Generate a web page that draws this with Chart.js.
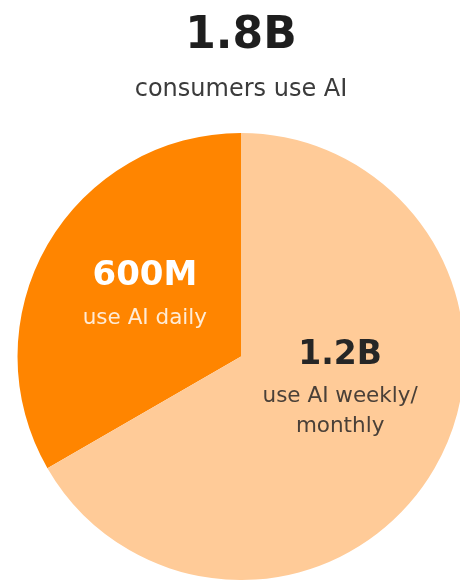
<!DOCTYPE html>
<html>
<head>
<meta charset="utf-8">
<script src="https://cdn.jsdelivr.net/npm/chart.js@4"></script>
<style>
  html, body { margin: 0; padding: 0; background: #fff; overflow: hidden; }
  #wrap { width: 460px; height: 580px; overflow: hidden; }
</style>
</head>
<body>
<div id="wrap"><canvas id="pie" width="482" height="580"></canvas></div>
<script>
// values in millions
const categories = ['use AI daily', 'use AI weekly/monthly'];
const users = [600, 1200];
const bigLabels = ['600M', '1.2B'];
const smallLabels = [['use AI daily'], ['use AI weekly/', 'monthly']];
const totalLabel = '1.8B';
const totalCaption = 'consumers use AI';

const FONT = '"DejaVu Sans", "Noto Sans", sans-serif';

// where each slice's text block sits: angle (deg from 12 o'clock, clockwise) and radius fraction
const sliceText = [
    {deg: -53.5, frac: 0.535, bigSize: 34, gap: 39, big: '#ffffff', small: 'rgba(255,240,224,0.95)'},
    {deg: 94.6, frac: 0.445, bigSize: 33, gap: 38, big: '#262626', small: '#4a4038'},
];

const sliceLabelsPlugin = {
    id: 'sliceLabels',
    afterDatasetsDraw(chart) {
        const ctx = chart.ctx;
        const meta = chart.getDatasetMeta(0);
        ctx.save();
        ctx.textAlign = 'center';
        ctx.textBaseline = 'alphabetic';
        meta.data.forEach((arc, i) => {
            const cfg = sliceText[i];
            const a = (cfg.deg - 90) * Math.PI / 180;
            const r = arc.outerRadius * cfg.frac;
            const x = arc.x + Math.cos(a) * r;
            const y = arc.y + Math.sin(a) * r;
            ctx.fillStyle = cfg.big;
            ctx.font = 'bold ' + cfg.bigSize + 'px ' + FONT;
            ctx.fillText(bigLabels[i], x, y);
            ctx.fillStyle = cfg.small;
            ctx.font = '400 21.5px ' + FONT;
            smallLabels[i].forEach((line, k) => {
                ctx.fillText(line, x, y + cfg.gap + k * 30);
            });
        });
        ctx.restore();
    }
};

new Chart(document.getElementById('pie'), {
    type: 'pie',
    data: {
        labels: categories,
        datasets: [{
            data: users,
            backgroundColor: ['#ff8500', '#ffcb98'],
            borderWidth: 0,
            hoverOffset: 0,
            offset: 0,
        }]
    },
    options: {
        responsive: false,
        animation: false,
        events: [],
        rotation: -120,
        layout: { padding: 0 },
        plugins: {
            legend: { display: false },
            tooltip: { enabled: false },
            title: {
                display: true,
                text: totalLabel,
                color: '#1e1e1e',
                font: { family: FONT, size: 44, weight: 'bold', lineHeight: 1 },
                padding: { top: 15, bottom: 0 },
            },
            subtitle: {
                display: true,
                text: totalCaption,
                color: '#3b3b3b',
                font: { family: FONT, size: 24, weight: 400, lineHeight: 1 },
                padding: { top: 19, bottom: 31 },
            },
        },
    },
    plugins: [sliceLabelsPlugin],
});
</script>
</body>
</html>
